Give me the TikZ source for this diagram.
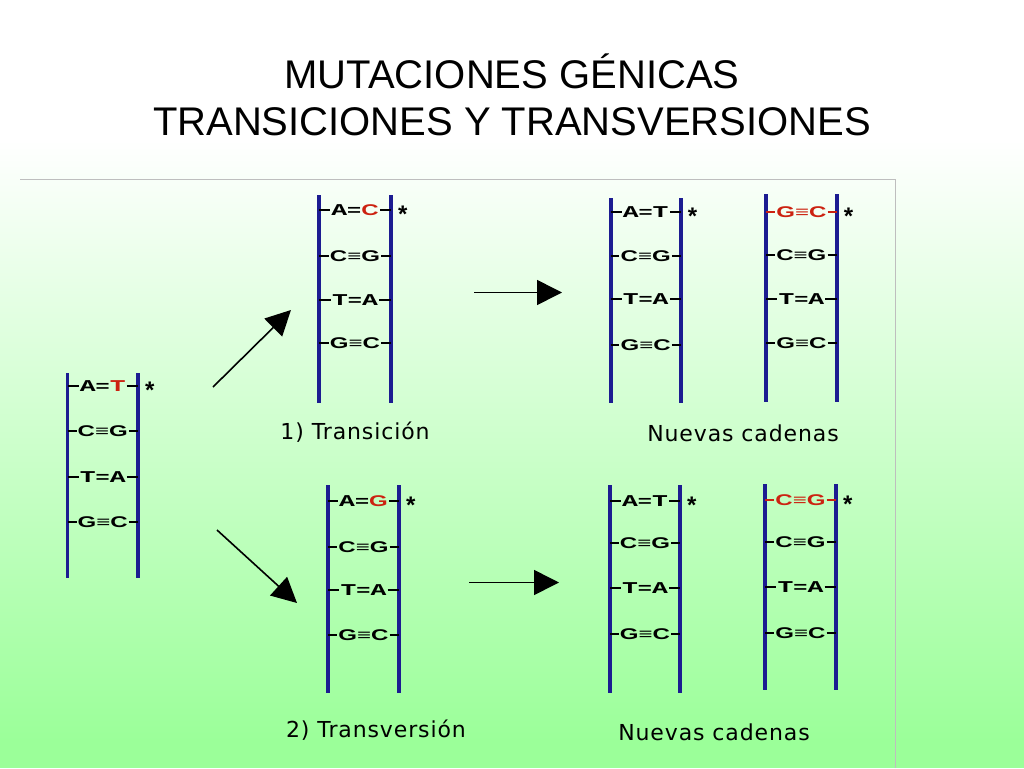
\documentclass[tikz,border=0pt]{standalone}
\usepackage{fontspec}
\setmainfont{Liberation Sans}
\newfontfamily\pairfont{Liberation Sans}[FakeStretch=1.55]
\newfontfamily\pairmono{Liberation Mono}[FakeStretch=1.6]
\newfontfamily\labelfont{DejaVu Sans}[LetterSpace=4]
\usetikzlibrary{calc,arrows.meta}
\definecolor{railblue}{RGB}{28,28,145}
\definecolor{mutred}{RGB}{204,34,17}
\definecolor{slidegreen}{RGB}{155,255,153}
\definecolor{framegray}{RGB}{190,190,190}
\newcommand\mbase[1]{{\pairmono\bfseries\fontsize{16.5}{16.5}\selectfont #1}}
\def\ladder(#1)(#2,#3,#4,#5){\coordinate (#1-l) at (#2,#4); \coordinate (#1-r) at (#3,#4); \coordinate (#1-m) at ($(#1-l)!.5!(#1-r)$); \draw[rail] (#2,#4) -- (#2,#5); \draw[rail] (#3,#4) -- (#3,#5);}
\def\rung[#1](#2-#3)(#4)#5{\node[pair,#1] (#2-#3) at (#2-m |- 0,#4) {#5}; \draw[bond,#1] (#2-l |- #2-#3.west) -- (#2-#3.west); \draw[bond,#1] (#2-#3.east) -- (#2-r |- #2-#3.east);}

\begin{document}
\begin{tikzpicture}[x=1pt, y=-1pt,
		rail/.style={railblue, line width=3.6pt},
		bond/.style={line width=1.8pt},
		pair/.style={inner sep=1pt, font=\pairfont\bfseries\fontsize{15.5}{15.5}\selectfont},
		starmark/.style={right=7pt, inner sep=0pt, yshift=-4pt, font=\bfseries\fontsize{24}{24}\selectfont},
		caption/.style={anchor=base, font=\labelfont\fontsize{22}{22}\selectfont},
		title/.style={anchor=base, font=\fontsize{40}{40}\selectfont},
		arr/.style={-{Triangle[length=25pt,width=25pt]}, line width=1.6pt}]
			%%%%% START %%%%%
			
			\useasboundingbox (0,0) rectangle (1024,768);
			\fill[white] (0,0) rectangle (1024,141);
			\shade[top color=white, bottom color=slidegreen] (0,140) rectangle (1024,741);
			\fill[slidegreen] (0,740) rectangle (1024,768);
			\draw[framegray, line width=1pt] (20,179) -- (895,179) -- (895,768);
			
			\node[title] (head1) at (512,88) {MUTACIONES GÉNICAS};
			\node[title] (head2) at (512,135) {TRANSICIONES Y TRANSVERSIONES};
			
			\ladder(orig)(67.5,138,373,578);
			\rung[](orig-1)(386){\mbase{A}=\textcolor{mutred}{\mbase{T}}};
			\rung[](orig-2)(431){C≡G};
			\rung[](orig-3)(477){\mbase{T}=\mbase{A}};
			\rung[](orig-4)(522){G≡C};
			\node[starmark] (orig-s) at (orig-r |- orig-1) {*};
			
			\ladder(ts)(319,391,195,403);
			\rung[](ts-1)(210){\mbase{A}=\textcolor{mutred}{C}};
			\rung[](ts-2)(256){C≡G};
			\rung[](ts-3)(300){\mbase{T}=\mbase{A}};
			\rung[](ts-4)(343){G≡C};
			\node[starmark] (ts-s) at (ts-r |- ts-1) {*};
			\node[caption] (ts-cap) at (355,439.5) {1) Transición};
			
			\ladder(tv)(328,399,485,693);
			\rung[](tv-1)(501){\mbase{A}=\textcolor{mutred}{G}};
			\rung[](tv-2)(547){C≡G};
			\rung[](tv-3)(590){\mbase{T}=\mbase{A}};
			\rung[](tv-4)(635){G≡C};
			\node[starmark] (tv-s) at (tv-r |- tv-1) {*};
			\node[caption] (tv-cap) at (376,737) {2) Transversión};
			
			\ladder(na)(610.7,680.7,198,403);
			\rung[](na-1)(212){\mbase{A}=\mbase{T}};
			\rung[](na-2)(256){C≡G};
			\rung[](na-3)(299){\mbase{T}=\mbase{A}};
			\rung[](na-4)(345){G≡C};
			\node[starmark] (na-s) at (na-r |- na-1) {*};
			
			\ladder(nb)(766,836.7,194,402);
			\rung[mutred](nb-1)(212){G≡C};
			\rung[](nb-2)(255){C≡G};
			\rung[](nb-3)(299){\mbase{T}=\mbase{A}};
			\rung[](nb-4)(343){G≡C};
			\node[starmark] (nb-s) at (nb-r |- nb-1) {*};
			\node[caption] (n1-cap) at (743,441) {Nuevas cadenas};
			
			\ladder(ma)(610,680,485,693);
			\rung[](ma-1)(501){\mbase{A}=\mbase{T}};
			\rung[](ma-2)(543){C≡G};
			\rung[](ma-3)(588){\mbase{T}=\mbase{A}};
			\rung[](ma-4)(634){G≡C};
			\node[starmark] (ma-s) at (ma-r |- ma-1) {*};
			
			\ladder(mb)(765,836,484,690);
			\rung[mutred](mb-1)(500){C≡G};
			\rung[](mb-2)(542){C≡G};
			\rung[](mb-3)(587){\mbase{T}=\mbase{A}};
			\rung[](mb-4)(633){G≡C};
			\node[starmark] (mb-s) at (mb-r |- mb-1) {*};
			\node[caption] (n2-cap) at (714,740) {Nuevas cadenas};
			
			\coordinate (up-s) at (213,387);
			\coordinate (up-e) at (291,310);
			\draw[arr] (up-s) -- (up-e);
			\coordinate (dn-s) at (217,530);
			\coordinate (dn-e) at (297,603);
			\draw[arr] (dn-s) -- (dn-e);
			\coordinate (ts-out) at (474,292.5);
			\coordinate (n1-in) at (562,292.5);
			\draw[arr] (ts-out) -- (n1-in);
			\coordinate (tv-out) at (469,582.5);
			\coordinate (n2-in) at (559,582.5);
			\draw[arr] (tv-out) -- (n2-in);
			
			%%%%% END %%%%%
\end{tikzpicture}
\end{document}
